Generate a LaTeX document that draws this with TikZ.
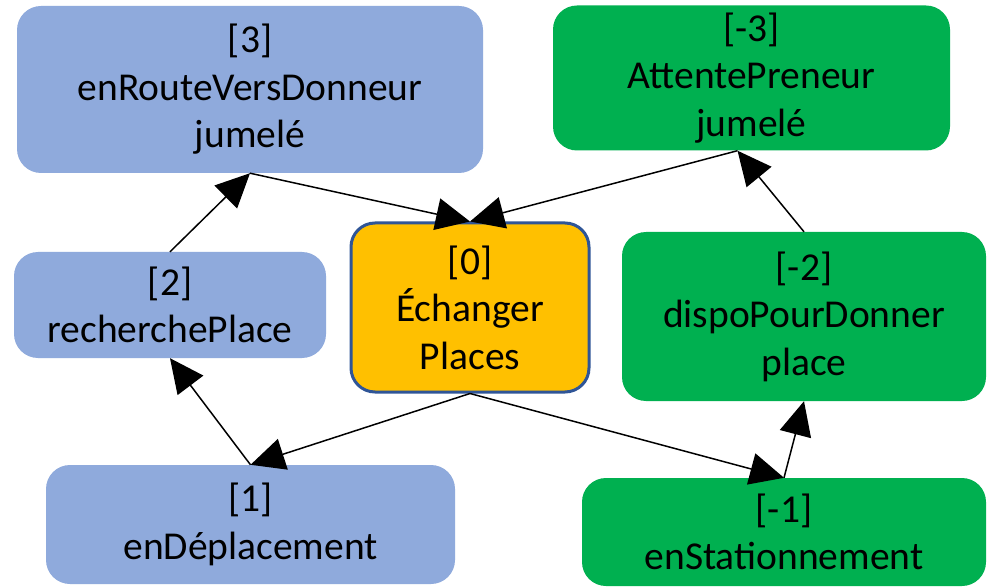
\documentclass[tikz,border=0pt]{standalone}
\usepackage{fontspec}
\setmainfont{Carlito}
\usetikzlibrary{arrows.meta}
\definecolor{cblue}{HTML}{8FAADC}
\definecolor{cgreen}{HTML}{00B050}
\definecolor{corange}{HTML}{FFC000}
\definecolor{cborder}{HTML}{2F5597}
\tikzset{
  box/.style={rectangle, rounded corners=24pt, inner sep=0pt, align=center,
    font=\fontsize{39.5}{47.5}\selectfont, text=black},
  bluebox/.style={box, fill=cblue},
  greenbox/.style={box, fill=cgreen},
  orangebox/.style={box, fill=corange, draw=cborder, line width=3pt},
  conn/.style={draw=black, line width=1.5pt, -{Triangle[length=34pt,width=32pt]}}
}
\begin{document}
\begin{tikzpicture}[x=1pt,y=-1pt]
\useasboundingbox[fill=white] (0,0) rectangle (988,588);
\node[bluebox, minimum width=466pt, minimum height=167pt] (n3) at (250,89.5) {[3]\\enRouteVersDonneur\\jumelé};
\node[greenbox, minimum width=397pt, minimum height=145pt] (nm3) at (751.5,78) {[-3]\\AttentePreneur\\jumelé};
\node[bluebox, minimum width=312pt, minimum height=106pt] (n2) at (170,305) {[2]\\recherchePlace};
\node[orangebox, minimum width=238pt, minimum height=169pt] (n0) at (470,307.5) {[0]\\Échanger\\Places};
\node[greenbox, minimum width=364pt, minimum height=169pt] (nm2) at (804,316.5) {[-2]\\dispoPourDonner\\place};
\node[bluebox, minimum width=409pt, minimum height=119pt] (n1) at (250.5,524.5) {[1]\\enDéplacement};
\node[greenbox, minimum width=404pt, minimum height=108pt] (nm1) at (784,532) {[-1]\\enStationnement};
\draw[conn] (n2.north) -- (n3.south);
\draw[conn] (n3.south) -- (n0.north);
\draw[conn] ([xshift=-14pt]nm3.south) -- (n0.north);
\draw[conn] (nm2.north) -- ([xshift=-14pt]nm3.south);
\draw[conn] (n0.south) -- (n1.north);
\draw[conn] (n1.north) -- (n2.south);
\draw[conn] (n0.south) -- (nm1.north);
\draw[conn] (nm1.north) -- (nm2.south);
\end{tikzpicture}
\end{document}
